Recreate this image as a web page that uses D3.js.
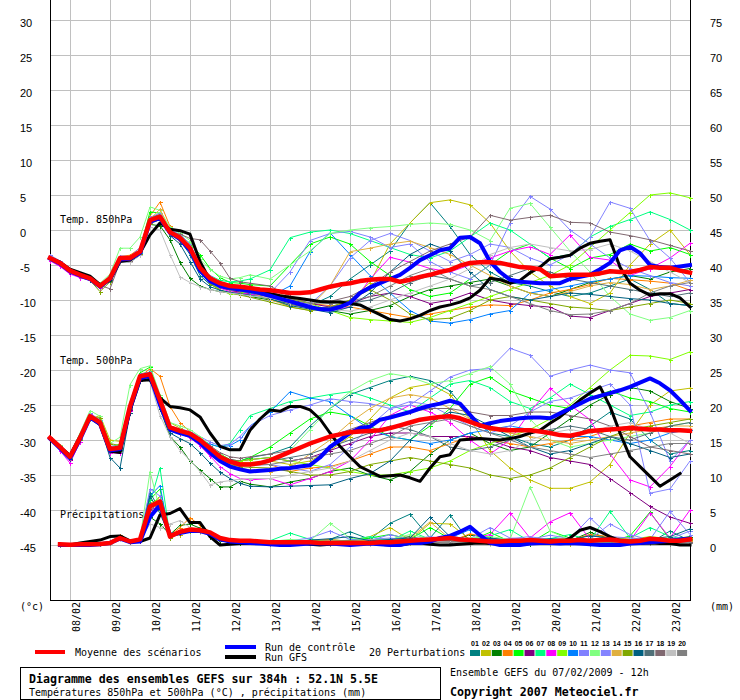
<!DOCTYPE html>
<html><head><meta charset="utf-8">
<script src="https://cdn.jsdelivr.net/npm/d3@7"></script>
<style>
body{margin:0;background:#fff}
svg{display:block}
text{font-family:"DejaVu Sans Mono",monospace;font-size:10px;fill:#000}
</style>
</head><body>
<svg id="chart" width="740" height="700"></svg>
<script>
// time steps (hours from 07/02 12h)
const hours=[0,6,12,18,24,30,36,42,48,54,60,66,72,78,84,90,96,102,108,114,120,126,132,138,144,150,156,162,168,174,180,186,192,198,204,210,216,222,228,234,240,246,252,258,264,270,276,282,288,294,300,306,312,318,324,330,336,342,348,354,360,366,372,378,384];
const hoursP=[0,6,12,18,24,30,36,42,48,54,60,66,72,78,84,90,96,102,108,114,120,132,144,156,168,180,192,204,216,228,240,252,264,276,288,300,312,324,336,348,360,372,384];
const rainHours=[6,12,18,24,30,36,42,48,54,60,66,72,78,84,90,96,102,108,114,120,126,132,138,144,150,156,162,168,174,180,186,192,198,204,210,216,222,228,234,240,246,252,258,264,270,276,282,288,294,300,306,312,318,324,330,336,342,348,354,360,366,372,378,384];
const rainHoursP=[6,12,18,24,30,36,42,48,54,60,66,72,78,84,90,96,102,108,114,120,132,144,156,168,180,192,204,216,228,240,252,264,276,288,300,312,324,336,348,360,372,384];

const dates=['08/02','09/02','10/02','11/02','12/02','13/02','14/02','15/02','16/02','17/02','18/02','19/02','20/02','21/02','22/02','23/02'];
const leftTicks=[30,25,20,15,10,5,0,-5,-10,-15,-20,-25,-30,-35,-40,-45];
const rightTicks=[75,70,65,60,55,50,45,40,35,30,25,20,15,10,5,0];

// 850 hPa
const mean850=[-4.0,-4.7,-5.8,-6.4,-6.9,-8.0,-6.9,-4.0,-4.0,-3.1,1.4,1.9,-0.3,-1.1,-2.6,-5.4,-6.9,-7.6,-8.0,-8.1,-8.3,
 -8.5,-8.6,-8.8,-9.0,-9.0,-8.9,-8.5,-8.1,-7.8,-7.6,-7.3,-7.1,-7.0,-7.0,-7.4,-7.1,-6.7,-6.4,-6.0,-5.7,-5.1,-4.7,-4.6,-4.6,
 -4.7,-5.0,-5.3,-5.4,-5.6,-6.6,-6.5,-6.4,-6.4,-6.4,-6.2,-5.9,-6.0,-6.0,-5.7,-5.3,-5.4,-5.4,-5.8,-6.1];
const ctrl850=[-4.1,-4.8,-5.9,-6.5,-7.0,-8.1,-7.0,-4.2,-4.1,-3.3,1.2,1.7,-0.4,-1.3,-2.9,-5.8,-7.3,-8.0,-8.3,-8.5,-8.7,
 -9.0,-9.4,-9.8,-10.2,-10.6,-11.0,-11.3,-11.4,-11.0,-10.4,-9.0,-8.2,-7.6,-7.0,-6.4,-5.4,-4.3,-3.6,-2.9,-2.6,-1.1,-1.0,-1.9,-4.5,
 -6.0,-7.1,-7.4,-7.5,-7.6,-7.6,-7.6,-7.0,-6.7,-6.4,-5.6,-4.7,-2.9,-2.4,-3.3,-5.0,-5.3,-5.4,-5.2,-5.0];
const gfs850=[-4.0,-4.6,-5.6,-6.1,-6.6,-7.8,-7.2,-4.5,-4.3,-3.3,-0.7,1.0,0.1,-0.1,-0.6,-4.5,-7.2,-7.8,-8.1,-8.3,-8.5,
 -8.8,-9.1,-9.4,-9.6,-9.8,-10.0,-10.2,-10.3,-10.3,-10.5,-10.7,-11.4,-12.1,-12.8,-13.0,-12.7,-12.2,-11.5,-11.0,-10.7,-10.3,-9.7,-8.6,-6.9,
 -7.1,-7.6,-7.2,-6.1,-5.3,-4.1,-3.9,-3.6,-2.6,-1.9,-1.6,-1.4,-5.3,-7.6,-8.6,-9.3,-9.1,-9.1,-9.7,-11.0];

// 500 hPa
const mean500=[-29.7,-31.0,-32.4,-29.7,-26.6,-27.5,-31.3,-31.1,-25.2,-20.9,-20.6,-24.3,-28.2,-28.7,-29.1,-30.0,-31.2,-32.4,-33.1,-33.5,-33.5,
 -33.3,-32.9,-32.3,-31.7,-31.1,-30.5,-30.0,-29.5,-29.2,-28.9,-28.8,-28.7,-28.6,-28.3,-27.9,-27.5,-27.1,-26.9,-26.7,-26.6,
 -26.9,-27.4,-27.9,-28.3,-28.5,-28.6,-28.6,-28.6,-28.8,-29.0,-29.3,-29.4,-29.1,-28.7,-28.6,-28.5,-28.4,-28.3,-28.4,-28.5,-28.5,-28.6,-28.6,-28.7];
const ctrl500=[-29.8,-31.2,-32.6,-29.9,-26.8,-27.7,-31.5,-31.3,-25.5,-21.2,-20.8,-25.0,-28.5,-29.0,-29.4,-30.4,-31.8,-33.0,-33.8,-34.2,-34.5,
 -34.4,-34.3,-34.1,-34.0,-33.8,-33.6,-32.5,-31.0,-30.0,-29.0,-28.3,-28.1,-27.1,-26.8,-26.4,-26.0,-25.5,-25.1,-24.8,-24.4,
 -24.8,-26.4,-28.0,-27.6,-27.3,-27.1,-26.9,-26.8,-26.8,-26.9,-26.2,-25.5,-24.8,-24.1,-23.7,-23.3,-22.9,-22.4,-21.8,-21.2,-21.9,-22.9,-24.3,-25.8];
const gfs500=[-29.7,-31.0,-32.2,-29.5,-26.8,-27.8,-31.6,-31.8,-25.8,-21.5,-21.4,-24.0,-25.2,-25.4,-25.7,-26.7,-29.0,-30.9,-31.4,-31.4,-28.6,
 -27.0,-25.7,-25.9,-25.2,-25.2,-25.7,-27.0,-29.0,-30.9,-32.4,-33.8,-34.5,-35.2,-35.1,-35.0,-35.4,-35.9,-34.0,-32.4,-32.1,
 -30.0,-29.9,-29.8,-29.9,-30.0,-29.8,-29.5,-29.0,-28.6,-27.6,-26.7,-25.5,-24.3,-23.3,-22.4,-25.2,-29.0,-32.4,-33.8,-35.2,-36.6,-35.7,-34.8,null];

// precipitation (mm)
const meanRain=[0.1,0.05,0.1,0.1,0.15,0.3,1.0,0.5,0.8,5.5,6.2,1.2,1.9,2.2,2.1,1.8,1.0,0.7,0.6,0.6,
 0.5,0.4,0.4,0.4,0.4,0.4,0.3,0.3,0.3,0.3,0.3,0.3,0.4,0.4,0.5,0.6,0.7,0.8,0.9,1.0,
 0.8,0.7,0.6,0.5,0.5,0.6,0.6,0.7,0.6,0.5,0.6,0.6,0.7,0.6,0.7,0.8,0.6,0.5,0.6,0.9,0.8,0.6,0.6,0.8];
const ctrlRain=[0,0,0,0,0.1,0.3,0.9,0.4,0.5,4.0,5.7,1.4,1.7,2.0,2.0,1.6,0.8,0.5,0.4,0.3,
 0.2,0.1,0,0,0.1,0.2,0.2,0.2,0.1,0,0.1,0.2,0.1,0,0,0.3,0.3,0.5,1.0,1.3,
 1.9,2.6,1.4,0.3,0,0,0,0.2,0.3,0.3,0.2,0.3,0.2,0.1,0,0,0,0.2,0.3,0.4,0.5,0.6,0.8,0.9];
const gfsRain=[0,0,0.3,0.5,0.7,1.2,1.3,0.6,0.5,1.0,4.3,4.5,5.2,3.2,3.2,1.2,0,0.1,0.2,0.2,
 0.2,0.3,0.2,0.2,0.3,0.1,0,0.1,0.2,0.1,0.2,0.3,0.1,0,0,0.2,0.3,0.1,0,0,
 0.1,0.2,0.3,0.2,0.3,0.2,0.1,0.2,0.3,0.2,0.3,1.0,2.1,2.5,1.9,1.2,0.6,0.3,0.2,0.3,0.2,0.2,0,0];

const pertColors=['#008080','#c0c000','#008000','#ff8000','#00ff00','#800080','#00ff80','#ff00ff','#80ff00','#0080ff',
 '#8080ff','#80ff80','#8484ff','#e0b040','#80a800','#006080','#507078','#806870','#c0c0c0','#808080'];
const pertLabels=['01','02','03','04','05','06','07','08','09','10','11','12','13','14','15','16','17','18','19','20'];

const pert850=[
 [-3.8,-4.6,-5.6,-6.3,-7.0,-8.2,-6.5,-3.8,-4.2,-3.0,1.8,2.2,-0.6,-1.5,-3.5,-6.5,-7.8,-8.3,-8.5,-8.8,-9.0, -9.5,-10.2,-10.8,-9.5,-7.0,-5.0,-3.0,1.0,3.9,0.5,-3.5,-6.0,-7.5,-8.0,-8.8,-9.5,-9.0,-8.0,-7.0,-8.5,-10.5,-10.8],
 [-4.1,-4.8,-5.9,-6.6,-7.2,-8.1,-7.2,-4.2,-3.9,-3.4,1.0,2.5,-0.2,-0.9,-2.2,-5.0,-7.0,-8.0,-8.6,-9.0,-9.3, -9.8,-11.0,-11.5,-11.2,-10.0,-7.5,-2.0,1.0,3.9,4.3,3.6,1.0,-3.0,-6.0,-8.0,-9.5,-10.5,-9.0,-5.0,-2.0,0.0,-3.5],
 [-4.0,-4.8,-5.8,-6.5,-7.0,-8.3,-7.3,-4.3,-4.4,-3.5,0.8,0.6,-1.4,-4.6,-6.9,-8.0,-8.5,-8.8,-9.0,-9.2,-9.5, -10.0,-10.5,-11.0,-11.5,-12.0,-11.5,-10.8,-9.5,-8.5,-8.0,-7.5,-7.0,-8.0,-9.0,-9.5,-8.5,-7.5,-7.0,-6.5,-7.0,-6.0,-5.5],
 [-3.9,-4.5,-5.6,-6.2,-6.8,-7.7,-6.6,-3.8,-3.6,-2.6,2.0,4.0,0.5,-1.8,-2.0,-5.2,-6.8,-7.4,-7.8,-8.2,-8.6, -9.0,-9.5,-10.5,-10.8,-11.0,-11.5,-12.0,-12.5,-12.0,-11.5,-11.0,-10.7,-10.8,-10.0,-9.0,-8.5,-7.8,-6.9,-7.1,-7.3,-7.6,-8.6],
 [-4.2,-4.9,-6.0,-6.5,-7.0,-8.1,-6.8,-4.0,-4.1,-2.8,2.6,2.4,0.0,-0.8,-1.9,-3.5,-5.5,-6.8,-7.5,-7.6,-7.8, -8.0,-5.0,-2.0,-1.0,-2.0,-4.5,-6.5,-8.5,-9.5,-9.0,-7.0,-5.0,-3.0,-2.0,-4.0,-5.5,-4.0,-3.5,-2.0,-3.0,-2.5,-3.5],
 [-4.1,-4.9,-6.1,-6.8,-7.1,-8.2,-7.0,-4.1,-4.3,-3.2,1.2,1.6,-0.5,-1.0,-2.8,-5.8,-7.5,-8.2,-8.6,-8.9,-9.1, -9.5,-10.0,-10.5,-11.0,-10.5,-9.5,-9.0,-9.5,-10.5,-10.0,-9.0,-10.0,-10.5,-10.8,-11.0,-12.3,-12.5,-11.5,-10.5,-9.5,-9.0,-8.5],
 [-3.9,-4.6,-5.7,-6.3,-6.8,-7.9,-6.7,-3.8,-3.8,-2.9,1.6,2.0,-0.1,-0.9,-2.4,-5.2,-6.5,-7.2,-7.4,-7.3,-7.0, -5.7,-1.1,-0.3,0.0,-0.5,-1.5,-2.5,-3.5,-4.0,-3.0,-1.0,1.0,0.0,-2.0,-4.0,-3.5,-1.0,0.5,1.5,2.6,1.5,0.0],
 [-4.4,-5.2,-6.3,-6.8,-7.2,-8.3,-7.1,-4.1,-4.0,-3.0,1.5,2.1,-0.4,-1.2,-2.6,-5.6,-7.3,-8.3,-8.8,-9.0,-9.2, -9.5,-10.5,-11.0,-11.5,-11.0,-7.0,-3.9,-4.6,-5.5,-6.0,-5.0,-4.0,-3.0,-2.4,-3.5,-0.7,-3.9,-4.3,-6.5,-5.5,-4.0,-1.9],
 [-4.0,-4.7,-5.7,-6.4,-6.9,-7.9,-6.8,-3.9,-3.9,-3.1,1.3,2.0,-0.2,-1.0,-2.4,-5.6,-7.6,-8.5,-9.2,-9.0,-8.8, -9.0,-9.8,-10.5,-11.5,-12.5,-12.8,-13.0,-13.2,-12.5,-11.5,-10.5,-9.5,-8.5,-7.5,-6.5,-5.0,-2.5,0.0,2.5,5.0,5.3,4.6],
 [-4.0,-4.8,-5.9,-6.5,-7.0,-8.1,-7.0,-4.2,-4.1,-3.3,1.1,1.8,-0.5,-1.3,-2.9,-5.9,-7.4,-8.1,-8.4,-8.7,-9.0, -9.5,-8.0,-3.1,-0.4,-3.5,-6.5,-9.0,-11.5,-13.0,-13.3,-12.8,-12.0,-11.5,-9.0,-8.5,-8.0,-7.4,-7.0,-6.5,-6.6,-6.8,-6.9],
 [-3.6,-4.4,-5.5,-6.2,-6.7,-7.8,-6.6,-3.7,-3.8,-2.5,1.8,2.4,0.0,-0.6,-2.0,-5.0,-6.6,-7.4,-7.8,-8.0,-8.2, -9.0,-6.0,-1.5,-0.5,-0.2,-1.0,-2.5,-2.0,-4.5,-6.0,-7.0,-5.0,1.0,4.8,3.0,0.0,-2.0,-4.0,-5.5,-6.5,-7.5,-8.0],
 [-4.0,-4.6,-5.6,-6.2,-6.7,-7.6,-6.3,-2.6,-2.6,-1.0,3.3,2.8,0.4,-0.5,-1.5,-4.2,-5.6,-6.6,-7.0,-6.8,-6.4, -7.0,-5.0,-3.0,-0.5,0.0,0.3,0.5,0.8,1.0,0.8,0.0,-1.5,3.1,3.8,0.4,-3.0,-6.0,-9.5,-12.0,-12.9,-12.5,-11.5],
 [-4.1,-4.7,-5.8,-6.4,-6.9,-8.0,-6.9,-3.9,-4.0,-3.1,1.3,2.0,-0.3,-1.1,-2.7,-5.5,-7.1,-7.9,-8.3,-8.5,-8.7, -9.3,-10.2,-10.6,-8.0,-4.0,-1.5,-0.5,-1.5,-3.0,-4.5,-3.5,-2.0,-2.5,-4.0,-5.0,-3.5,-1.0,4.0,3.1,-1.5,-4.0,-7.5],
 [-3.9,-4.6,-5.7,-6.3,-6.8,-7.9,-6.8,-3.9,-3.9,-3.0,1.5,3.0,-0.2,-1.6,-2.8,-5.4,-7.2,-8.0,-8.3,-8.5,-8.8, -10.0,-10.8,-11.0,-8.0,-3.1,-2.6,-2.0,-1.6,-2.5,-3.5,-5.0,-6.5,-8.0,-9.0,-9.5,-8.8,-8.0,-7.5,-7.8,-8.5,-8.0,-7.2],
 [-4.0,-4.7,-5.8,-6.5,-7.2,-8.8,-7.4,-4.3,-4.3,-3.4,0.9,1.5,-0.7,-1.4,-3.0,-5.9,-7.7,-8.6,-9.0,-9.3,-9.6, -10.3,-11.0,-11.5,-11.0,-10.0,-8.5,-10.0,-12.0,-12.8,-12.6,-11.5,-10.0,-9.5,-10.0,-10.5,-11.0,-11.2,-11.5,-11.0,-10.5,-10.0,-10.5],
 [-4.2,-4.9,-6.0,-6.6,-7.1,-8.2,-7.1,-4.5,-4.6,-3.6,1.0,1.6,-0.8,-2.0,-4.5,-7.0,-8.1,-8.6,-8.9,-9.1,-9.3, -9.8,-10.8,-11.3,-11.8,-11.0,-9.0,-6.0,-3.5,-2.0,-3.0,-6.0,-8.5,-9.5,-10.0,-9.5,-9.0,-9.2,-9.5,-9.8,-10.0,-10.5,-10.8],
 [-4.0,-4.8,-5.9,-6.4,-6.9,-8.0,-7.0,-4.1,-4.1,-3.2,1.2,1.7,-0.4,-1.2,-2.7,-5.6,-7.3,-8.0,-8.4,-8.7,-8.9, -9.6,-10.6,-11.2,-11.0,-10.5,-10.0,-9.0,-7.5,-6.5,-7.0,-8.0,-7.5,-6.5,-5.5,-6.0,-7.0,-7.5,-8.0,-8.5,-9.0,-9.5,-9.0],
 [-3.8,-4.5,-5.6,-6.2,-6.8,-7.9,-8.4,-4.6,-4.4,-3.2,1.0,1.5,-0.3,-0.6,-1.2,-1.4,-3.0,-4.7,-6.9,-7.4,-7.6, -8.0,-9.5,-10.0,-10.2,-9.5,-8.0,-6.0,-4.5,-3.0,-2.0,-1.0,2.1,1.4,1.8,2.1,1.1,1.0,-0.3,-0.8,-1.4,-2.2,-3.0],
 [-4.0,-4.7,-5.8,-6.4,-6.9,-8.0,-6.8,-4.6,-4.6,-3.6,0.4,0.0,-3.5,-6.7,-7.5,-8.1,-8.5,-8.8,-9.0,-9.2,-9.4, -9.7,-10.4,-10.9,-11.3,-11.6,-11.0,-10.0,-9.0,-8.0,-7.0,-5.5,-3.5,-2.5,-2.0,-2.5,-3.0,-2.8,-2.0,-3.0,-4.5,-6.0,-7.5],
 [-4.1,-4.8,-5.9,-6.5,-7.0,-8.1,-7.0,-4.1,-4.1,-3.2,1.2,1.8,-0.4,-1.2,-2.8,-5.7,-7.3,-8.1,-8.5,-8.7,-8.9, -9.0,-9.8,-10.4,-10.5,-10.2,-9.5,-8.0,-6.5,-5.5,-7.0,-8.0,-8.5,-9.5,-10.5,-11.5,-12.1,-12.0,-11.5,-10.5,-9.0,-8.0,-7.5]
];

const pert500=[
 [-29.6,-30.8,-32.2,-29.4,-26.3,-27.2,-31.0,-31.4,-25.8,-21.5,-20.2,-24.0,-28.3,-29.0,-29.5,-30.5,-31.5,-32.5,-33.0,-33.0,-32.5, -32.0,-31.0,-28.0,-25.5,-23.5,-22.5,-21.5,-20.9,-21.5,-23.0,-26.5,-29.0,-29.5,-30.5,-31.0,-30.0,-28.0,-26.0,-27.0,-30.0,-32.0,-31.5],
 [-29.8,-31.2,-32.5,-30.0,-27.0,-26.5,-30.0,-30.2,-24.8,-20.5,-20.4,-23.8,-27.5,-28.3,-29.0,-29.8,-31.0,-32.0,-32.8,-33.2,-33.2, -33.0,-33.5,-33.0,-31.5,-29.5,-27.0,-24.0,-22.5,-22.0,-23.5,-27.0,-31.5,-34.0,-35.7,-36.9,-36.9,-36.0,-33.5,-29.0,-25.0,-23.0,-22.6],
 [-29.7,-31.1,-32.5,-29.8,-26.7,-27.6,-31.4,-31.5,-25.6,-21.3,-21.0,-25.5,-29.5,-31.0,-33.0,-34.3,-35.5,-36.7,-36.7,-35.9,-36.3, -36.7,-36.0,-35.5,-34.5,-34.0,-35.0,-35.7,-34.5,-32.0,-30.0,-29.0,-30.5,-31.5,-31.0,-29.0,-27.0,-25.0,-23.5,-22.5,-23.0,-24.5,-25.5],
 [-29.6,-31.0,-32.0,-29.4,-26.8,-27.9,-31.8,-31.6,-25.4,-21.0,-19.8,-20.9,-25.2,-27.5,-28.8,-30.0,-31.3,-32.3,-33.0,-33.2,-33.3, -33.5,-34.5,-34.0,-33.8,-33.0,-32.0,-31.0,-31.0,-31.5,-30.5,-29.5,-30.0,-30.5,-31.0,-30.5,-30.0,-29.5,-28.5,-28.0,-27.5,-27.0,-27.0],
 [-29.8,-31.1,-32.4,-29.6,-26.4,-27.2,-31.0,-30.6,-24.6,-20.4,-19.6,-23.8,-28.0,-28.6,-29.0,-30.0,-31.0,-32.0,-32.8,-33.0,-32.5, -31.0,-29.0,-27.0,-26.0,-26.5,-28.0,-29.5,-30.0,-28.0,-25.5,-22.0,-21.0,-23.0,-24.0,-25.0,-25.5,-24.0,-23.0,-24.0,-24.5,-25.5,-26.0],
 [-29.7,-31.3,-32.8,-30.0,-26.9,-27.8,-31.5,-31.5,-25.7,-21.4,-21.4,-25.0,-28.6,-29.1,-29.6,-30.5,-31.5,-32.3,-32.8,-33.0,-32.8, -32.5,-33.0,-32.5,-31.5,-30.5,-29.5,-29.0,-29.0,-29.5,-29.5,-29.5,-30.0,-31.0,-31.5,-32.5,-33.0,-33.5,-35.5,-37.5,-39.5,-41.0,-41.9],
 [-29.6,-30.9,-32.2,-29.4,-26.4,-27.3,-31.2,-30.9,-25.0,-20.6,-20.3,-24.0,-28.0,-28.5,-29.0,-29.8,-30.6,-31.0,-30.5,-28.5,-26.5, -25.5,-24.5,-24.0,-23.5,-23.1,-24.0,-25.0,-26.0,-24.0,-22.0,-21.5,-22.5,-24.5,-25.5,-24.0,-22.0,-23.5,-25.0,-26.5,-26.0,-25.0,-24.5],
 [-29.8,-31.5,-33.3,-30.3,-26.3,-27.2,-31.8,-31.9,-25.9,-21.2,-20.8,-24.5,-28.5,-29.1,-29.7,-30.8,-32.3,-33.8,-34.8,-35.5,-35.7, -35.5,-36.4,-35.5,-34.5,-33.0,-30.0,-26.5,-25.0,-26.0,-27.5,-30.0,-32.0,-30.0,-26.0,-22.6,-25.0,-27.1,-32.0,-35.7,-36.7,-33.8,-30.0],
 [-29.7,-31.0,-32.3,-29.5,-26.5,-27.4,-31.2,-31.0,-25.1,-20.8,-20.5,-24.2,-28.1,-28.7,-29.2,-30.3,-31.5,-32.5,-33.0,-33.0,-32.8, -32.5,-33.0,-33.5,-34.0,-34.5,-35.0,-35.0,-34.5,-34.0,-33.0,-31.5,-30.5,-29.5,-28.5,-27.0,-25.0,-22.5,-20.0,-17.9,-18.0,-18.5,-17.4],
 [-29.7,-31.1,-32.5,-29.9,-26.9,-27.8,-31.6,-31.5,-25.6,-21.1,-20.9,-24.6,-28.4,-29.0,-29.3,-30.0,-30.6,-31.0,-30.8,-30.0,-28.0, -26.0,-23.1,-24.0,-24.5,-26.5,-28.5,-29.5,-30.0,-30.5,-30.0,-29.0,-28.5,-28.0,-28.5,-29.0,-29.5,-29.5,-30.0,-30.5,-30.0,-29.0,-28.5],
 [-29.5,-30.8,-32.0,-29.3,-26.2,-27.1,-30.9,-30.8,-24.9,-20.6,-20.3,-24.1,-28.0,-28.4,-28.8,-29.5,-30.3,-30.8,-30.6,-29.5,-28.0, -26.5,-25.7,-25.0,-24.1,-24.5,-24.8,-25.5,-25.0,-23.0,-21.0,-20.0,-19.8,-16.9,-17.9,-20.9,-20.0,-19.3,-20.0,-20.4,-26.0,-33.0,-30.0],
 [-29.6,-30.7,-32.1,-29.0,-25.8,-26.6,-30.5,-29.6,-22.1,-19.8,-19.4,-23.5,-27.5,-28.0,-28.5,-29.5,-30.8,-32.0,-33.0,-33.5,-33.5, -33.0,-31.5,-28.5,-25.5,-23.1,-21.5,-20.5,-21.0,-22.0,-21.5,-20.5,-19.5,-22.0,-27.0,-30.0,-31.0,-30.5,-30.0,-29.5,-29.0,-28.0,-27.5],
 [-29.7,-31.0,-32.4,-29.7,-26.6,-27.5,-31.3,-31.2,-25.3,-21.0,-20.7,-24.4,-28.3,-28.8,-29.2,-30.1,-31.4,-32.6,-33.3,-33.6,-33.6, -33.5,-34.0,-34.5,-33.5,-31.0,-28.0,-25.5,-24.5,-25.0,-26.5,-28.0,-29.0,-28.0,-26.0,-24.5,-24.0,-23.0,-22.0,-25.0,-37.6,-37.0,-33.0],
 [-29.8,-31.0,-32.3,-29.8,-26.7,-27.5,-31.4,-31.3,-25.4,-21.0,-20.7,-24.2,-28.0,-28.5,-29.0,-30.0,-31.3,-32.6,-33.5,-34.0,-34.3, -34.5,-34.0,-32.0,-30.0,-27.5,-25.5,-24.0,-23.5,-24.0,-25.5,-27.0,-28.5,-29.0,-29.5,-30.0,-30.5,-30.0,-29.5,-29.0,-28.5,-28.0,-28.0],
 [-29.7,-31.2,-32.6,-30.0,-26.9,-26.8,-30.5,-30.8,-25.3,-21.2,-20.9,-24.6,-28.4,-29.0,-29.5,-30.4,-31.6,-32.8,-33.5,-33.8,-33.9, -34.0,-34.5,-35.0,-35.0,-34.5,-33.5,-33.0,-32.5,-33.0,-33.5,-34.0,-35.0,-35.5,-35.0,-34.0,-32.5,-31.0,-29.5,-28.5,-28.0,-27.5,-27.0],
 [-29.8,-31.2,-32.7,-29.9,-26.8,-28.0,-32.5,-34.0,-26.2,-21.5,-21.2,-25.0,-29.0,-29.8,-30.5,-31.8,-33.3,-34.6,-35.5,-36.2,-36.6, -36.7,-36.6,-36.5,-36.4,-35.5,-34.8,-33.0,-30.0,-27.5,-26.0,-26.5,-28.0,-29.5,-31.0,-32.0,-31.5,-30.5,-29.5,-30.5,-31.5,-32.5,-32.0],
 [-29.7,-31.1,-32.5,-29.8,-26.7,-27.6,-31.5,-31.5,-25.5,-21.1,-20.8,-24.5,-28.3,-28.8,-29.3,-30.2,-31.4,-32.5,-33.2,-33.5,-33.4, -33.0,-32.5,-32.0,-31.0,-30.0,-29.0,-28.0,-28.5,-29.5,-31.0,-31.5,-31.0,-30.0,-29.0,-28.5,-28.0,-28.5,-29.5,-30.0,-29.0,-28.0,-27.5],
 [-29.6,-30.9,-32.3,-29.6,-26.6,-27.4,-31.2,-31.1,-25.3,-21.0,-20.8,-24.6,-28.2,-28.6,-29.0,-29.8,-30.8,-31.8,-32.4,-32.6,-32.4, -32.0,-31.5,-30.5,-29.5,-28.5,-27.5,-26.5,-26.0,-25.5,-25.5,-26.0,-26.5,-26.5,-26.0,-26.0,-26.5,-27.0,-28.0,-29.5,-31.0,-31.5,-32.0],
 [-29.7,-31.0,-32.4,-29.8,-26.7,-27.5,-31.2,-30.9,-25.0,-20.7,-21.6,-26.5,-29.5,-31.5,-32.9,-34.5,-36.4,-36.0,-35.8,-35.6,-35.5, -35.5,-35.0,-34.5,-34.0,-33.0,-31.5,-30.0,-29.0,-29.5,-30.5,-31.5,-32.0,-31.5,-30.0,-29.0,-28.5,-29.0,-28.0,-27.5,-28.5,-29.0,-30.5],
 [-29.7,-31.1,-32.5,-29.8,-26.7,-27.6,-31.4,-31.3,-25.4,-21.0,-20.7,-24.4,-28.3,-28.9,-29.4,-30.3,-31.5,-32.6,-33.3,-33.6,-33.6, -33.5,-33.0,-32.5,-32.0,-31.5,-30.5,-29.5,-28.0,-27.5,-27.0,-28.0,-29.0,-30.0,-31.0,-31.5,-32.0,-32.5,-32.0,-31.5,-31.0,-30.5,-30.5]
];

const pertRain=[
 [0.0,0.1,0.1,0.1,0.2,0.3,1.1,0.4,0.9,7.5,5.0,1.0,1.8,2.0,2.5,1.5,0.8,0.5,0.4,0.5, 0.3,0.4,0.5,0.8,1.9,0.8,3.1,4.4,1.0,4.3,0.3,0.2,0.5,1.0,0.8,0.4,1.5,0.8,0.6,0.3,2.0,0.6],
 [0.1,0.0,0.1,0.2,0.1,0.4,1.0,0.6,0.7,6.0,6.5,1.3,1.5,2.3,2.0,1.7,0.9,0.6,0.5,0.4, 0.2,0.3,0.2,0.4,0.6,1.2,2.5,0.7,3.1,3.0,0.8,0.4,0.2,0.6,0.3,0.2,0.7,0.4,1.1,0.5,0.3,0.8],
 [0.1,0.1,0.1,0.1,0.2,0.2,0.9,0.5,0.6,4.0,3.0,1.5,2.8,3.0,2.4,1.2,0.6,0.4,0.3,0.3, 0.1,0.2,0.2,0.3,0.5,0.4,0.8,1.2,0.6,0.4,1.5,0.9,0.3,0.2,0.4,0.6,1.8,0.9,0.5,0.3,0.8,1.2],
 [0.1,0.0,0.1,0.1,0.2,0.3,1.4,0.6,0.8,5.0,7.0,1.4,2.5,3.9,2.8,1.9,1.0,0.7,0.6,0.5, 0.4,0.5,0.6,0.8,0.5,0.4,0.6,0.9,0.7,0.5,1.6,1.0,0.6,0.4,0.5,0.7,1.5,1.2,0.8,0.5,0.6,1.0],
 [0.1,0.1,0.1,0.1,0.1,0.3,0.9,0.4,0.7,6.5,8.0,1.0,2.0,2.2,2.0,1.6,0.8,0.5,0.5,0.4, 0.3,0.5,0.4,0.7,0.6,1.0,1.5,0.8,2.5,0.9,0.6,1.8,0.5,0.3,2.0,1.0,0.6,0.5,1.3,4.7,0.8,0.5],
 [0.0,0.0,0.1,0.1,0.1,0.2,0.8,0.4,0.6,5.0,5.5,1.1,1.7,2.0,1.9,1.6,0.9,0.6,0.5,0.5, 0.2,0.2,0.3,0.3,0.4,0.6,0.5,0.8,0.6,0.5,0.7,0.9,0.5,0.4,0.6,0.5,0.8,0.7,0.5,0.6,0.7,0.6],
 [0.1,0.1,0.1,0.1,0.2,0.3,1.0,0.5,0.9,6.0,11.0,1.2,2.0,2.4,2.2,1.8,1.0,0.7,0.6,0.5, 0.6,1.7,0.8,0.5,0.7,1.2,0.6,2.0,0.8,1.0,0.6,1.3,2.2,0.5,0.9,1.5,0.7,4.8,1.0,2.5,1.2,0.7],
 [0.0,0.1,0.1,0.1,0.1,0.3,1.0,0.5,0.8,4.5,6.0,1.1,1.8,2.0,2.1,1.8,1.0,0.6,0.5,0.5, 0.3,0.4,0.3,0.5,0.6,0.8,0.7,1.0,0.9,1.2,0.8,1.5,4.6,1.0,3.3,4.6,0.8,1.0,0.6,4.6,1.0,5.0],
 [0.1,0.1,0.1,0.1,0.2,0.3,1.0,0.5,0.8,5.5,7.0,1.3,1.9,2.1,2.0,1.7,0.9,0.6,0.5,0.5, 0.4,0.3,0.5,0.6,0.4,0.7,0.9,0.6,0.5,0.8,0.6,0.4,0.7,0.9,0.6,1.0,0.5,0.7,0.8,1.2,0.9,0.7],
 [0.0,0.0,0.1,0.1,0.2,0.3,1.1,0.5,0.9,7.0,8.5,1.0,1.9,2.2,2.0,1.7,0.9,0.6,0.5,0.4, 0.3,0.2,0.3,0.4,0.5,0.3,0.6,0.8,0.6,1.0,2.2,0.8,0.4,0.3,0.5,0.4,0.3,0.5,0.4,0.6,0.5,0.4],
 [0.1,0.1,0.1,0.1,0.2,0.4,1.2,0.6,1.0,8.0,7.0,1.4,2.1,2.3,2.2,1.8,1.0,0.7,0.6,0.6, 0.5,0.6,1.0,2.0,0.8,0.6,1.5,0.8,1.2,0.7,0.9,2.5,1.0,0.8,1.4,0.9,3.9,1.2,1.0,0.8,4.8,1.5],
 [0.1,0.1,0.1,0.1,0.2,0.3,1.3,0.6,0.9,10.5,5.0,1.5,2.0,2.3,2.1,1.8,1.0,0.7,0.6,0.6, 0.5,0.8,0.6,3.1,1.0,0.7,0.8,1.5,0.9,0.7,1.0,1.2,0.8,8.3,2.0,0.7,0.9,1.0,0.8,0.6,0.7,0.9],
 [0.1,0.0,0.1,0.1,0.2,0.3,1.0,0.5,0.8,5.5,6.5,1.2,1.9,2.2,2.0,1.7,0.9,0.6,0.5,0.5, 0.4,0.5,0.4,0.6,0.5,0.8,1.0,0.7,0.6,1.3,0.8,0.6,0.9,1.2,0.7,0.5,0.8,3.0,1.5,0.7,0.9,2.0],
 [0.1,0.1,0.1,0.1,0.2,0.3,1.2,0.6,0.8,6.0,6.0,1.3,2.0,2.5,2.2,1.8,1.0,0.6,0.5,0.5, 0.3,0.4,0.5,0.6,0.5,0.7,0.6,1.0,3.3,0.9,0.5,0.4,0.6,0.5,0.7,0.6,0.5,0.8,0.6,0.5,0.7,0.6],
 [0.0,0.1,0.1,0.1,0.1,0.2,0.8,0.4,0.7,4.5,5.0,1.0,1.8,2.0,1.9,1.6,0.9,0.6,0.5,0.4, 0.2,0.3,0.4,0.5,0.6,0.5,0.7,0.6,0.8,0.5,0.4,0.6,0.7,0.5,0.4,0.6,0.5,0.7,0.4,0.5,0.6,0.8],
 [0.1,0.1,0.1,0.1,0.2,0.3,1.1,0.6,0.9,7.0,4.5,1.2,1.9,2.1,2.0,1.7,0.9,0.6,0.5,0.5, 0.4,0.5,0.7,0.9,1.2,0.6,0.8,1.0,4.0,1.2,0.8,1.0,0.7,0.6,0.9,0.8,1.3,1.0,0.7,0.9,1.2,2.3],
 [0.0,0.1,0.1,0.1,0.1,0.3,1.0,0.5,0.8,6.0,5.5,1.1,1.8,2.1,2.0,1.6,0.9,0.6,0.5,0.5, 0.3,0.4,0.3,0.4,0.5,0.4,0.6,0.5,0.7,0.6,0.5,0.4,0.6,0.5,0.4,0.6,0.5,0.4,0.6,0.5,0.4,0.5],
 [0.1,0.1,0.1,0.1,0.2,0.3,0.9,0.5,0.7,5.0,6.0,1.2,1.9,2.2,2.0,1.7,0.9,0.6,0.5,0.5, 0.2,0.3,0.2,0.3,0.4,0.3,0.5,0.4,0.6,0.5,0.4,0.3,0.5,0.4,0.3,0.5,0.4,0.3,0.5,0.4,0.3,0.4],
 [0.1,0.0,0.1,0.1,0.1,0.2,0.8,0.4,0.7,3.0,2.5,3.0,3.5,2.5,1.8,1.4,0.8,0.5,0.4,0.3, 0.1,0.2,0.1,0.2,0.3,0.2,0.4,0.3,0.5,0.4,0.3,0.2,0.4,0.3,0.2,0.4,0.3,0.2,0.4,0.3,0.2,0.3],
 [0.0,0.1,0.1,0.1,0.2,0.3,1.0,0.5,0.8,5.5,6.0,1.2,1.9,2.1,2.0,1.7,0.9,0.6,0.5,0.5, 0.2,0.2,0.3,0.2,0.3,0.3,0.2,0.3,0.4,0.3,0.2,0.3,0.2,0.3,0.2,0.3,0.2,0.3,0.2,0.3,0.2,0.3]
];

const svg=d3.select('#chart');
const x=d3.scaleLinear().domain([0,384]).range([50,690]);
const y=d3.scaleLinear().domain([-45,30]).range([545,20]);
const yMm=d3.scaleLinear().domain([0,75]).range([545,20]);
const dateHours=dates.map((d,i)=>12+24*i);

// grid
const grid=svg.append('g').attr('stroke','#c0c0c0').attr('stroke-width',1).attr('shape-rendering','crispEdges');
grid.selectAll('.vg').data(dateHours).enter().append('line')
  .attr('x1',d=>x(d)+0.5).attr('x2',d=>x(d)+0.5).attr('y1',0).attr('y2',600);
grid.selectAll('.hg').data(leftTicks).enter().append('line')
  .attr('x1',50).attr('x2',690).attr('y1',d=>y(d)+0.5).attr('y2',d=>y(d)+0.5);

// axes frame
const ax=svg.append('g').attr('stroke','#000').attr('stroke-width',1).attr('shape-rendering','crispEdges');
ax.append('line').attr('x1',50.5).attr('x2',50.5).attr('y1',0).attr('y2',601);
ax.append('line').attr('x1',690.5).attr('x2',690.5).attr('y1',0).attr('y2',601);
ax.append('line').attr('x1',50).attr('x2',691).attr('y1',600.5).attr('y2',600.5);

// tick labels
const sans='"Liberation Sans",Arial,sans-serif';
svg.selectAll('.lt').data(leftTicks).enter().append('text')
  .attr('x',20).attr('y',d=>y(d)+7).style('font-family',sans).style('font-size','11px').text(d=>d);
svg.selectAll('.rt').data(rightTicks).enter().append('text')
  .attr('x',710).attr('y',d=>yMm(d)+7).style('font-family',sans).style('font-size','11px').text(d=>d);
svg.append('text').attr('x',20).attr('y',610).text('(°c)');
svg.append('text').attr('x',710).attr('y',610).text('(mm)');
svg.selectAll('.dt').data(dates).enter().append('text')
  .attr('transform',(d,i)=>`translate(${x(dateHours[i])+10},602) rotate(-90)`)
  .attr('text-anchor','end').text(d=>d);

// panel titles
svg.append('text').attr('x',60).attr('y',223).text('Temp. 850hPa');
svg.append('text').attr('x',60).attr('y',364).text('Temp. 500hPa');
svg.append('text').attr('x',60).attr('y',518).text('Précipitations');

// series drawing
const plot=svg.append('g');
function series(hrs,vals,ys){ return vals.map((v,i)=>v==null?null:[x(hrs[i]),ys(v)]); }
const line=d3.line().defined(d=>d!=null);
function crosses(pts){ return pts.filter(p=>p).map(p=>{const px=Math.round(p[0])+0.5, py=Math.round(p[1])+0.5; return `M${px-2},${py}h4M${px},${py-2}v4`;}).join(''); }
function drawPert(list,hrs,ys){
  list.forEach((vals,i)=>{
    const pts=series(hrs,vals,ys);
    plot.append('path').attr('d',line(pts)).attr('fill','none').attr('stroke',pertColors[i]).attr('stroke-width',1);
    plot.append('path').attr('d',crosses(pts)).attr('fill','none').attr('stroke',pertColors[i]).attr('stroke-width',1).attr('shape-rendering','crispEdges');
  });
}
function drawMain(vals,hrs,ys,color,w){
  plot.append('path').attr('d',line(series(hrs,vals,ys))).attr('fill','none').attr('stroke',color)
    .attr('stroke-width',w).attr('stroke-linejoin','round').attr('stroke-linecap','square');
}
drawPert(pert850,hoursP,y);
drawPert(pert500,hoursP,y);
drawPert(pertRain,rainHoursP,yMm);
[[gfs850,hours,y],[gfs500,hours,y],[gfsRain,rainHours,yMm]].forEach(s=>drawMain(s[0],s[1],s[2],'#000',3));
[[ctrl850,hours,y],[ctrl500,hours,y],[ctrlRain,rainHours,yMm]].forEach(s=>drawMain(s[0],s[1],s[2],'#0000ff',4));
[[mean850,hours,y],[mean500,hours,y],[meanRain,rainHours,yMm]].forEach(s=>drawMain(s[0],s[1],s[2],'#ff0000',4.5));

// legend
const lg=svg.append('g');
lg.append('rect').attr('x',35).attr('y',650).attr('width',30).attr('height',4).attr('fill','#ff0000');
lg.append('text').attr('x',75).attr('y',656).text('Moyenne des scénarios');
lg.append('rect').attr('x',225).attr('y',645).attr('width',31).attr('height',4).attr('fill','#0000ff');
lg.append('rect').attr('x',225).attr('y',655).attr('width',31).attr('height',4).attr('fill','#000');
lg.append('text').attr('x',265).attr('y',651).text('Run de contrôle');
lg.append('text').attr('x',265).attr('y',661).text('Run GFS');
lg.append('text').attr('x',369).attr('y',656).text('20 Perturbations');
lg.selectAll('.sw').data(pertColors).enter().append('rect')
  .attr('x',(d,i)=>470+i*10.9).attr('y',650).attr('width',10).attr('height',6).attr('fill',d=>d);
lg.selectAll('.sl').data(pertLabels).enter().append('text')
  .attr('x',(d,i)=>475+i*10.9).attr('y',646).attr('text-anchor','middle')
  .style('font-size','7px').style('font-weight','bold').style('font-family',sans).text(d=>d);

// footer
svg.append('rect').attr('x',20.5).attr('y',667.5).attr('width',420).attr('height',31.5)
  .attr('fill','none').attr('stroke','#000').attr('shape-rendering','crispEdges');
svg.append('text').attr('x',29).attr('y',683).style('font-weight','bold').style('font-size','11.6px')
  .text('Diagramme des ensembles GEFS sur 384h : 52.1N 5.5E');
svg.append('text').attr('x',29).attr('y',696).text('Températures 850hPa et 500hPa (°C) , précipitations (mm)');
svg.append('text').attr('x',450).attr('y',676).text('Ensemble GEFS du 07/02/2009 - 12h');
svg.append('text').attr('x',450).attr('y',696).style('font-weight','bold').style('font-size','11.6px')
  .text('Copyright 2007 Meteociel.fr');
</script>
</body></html>
